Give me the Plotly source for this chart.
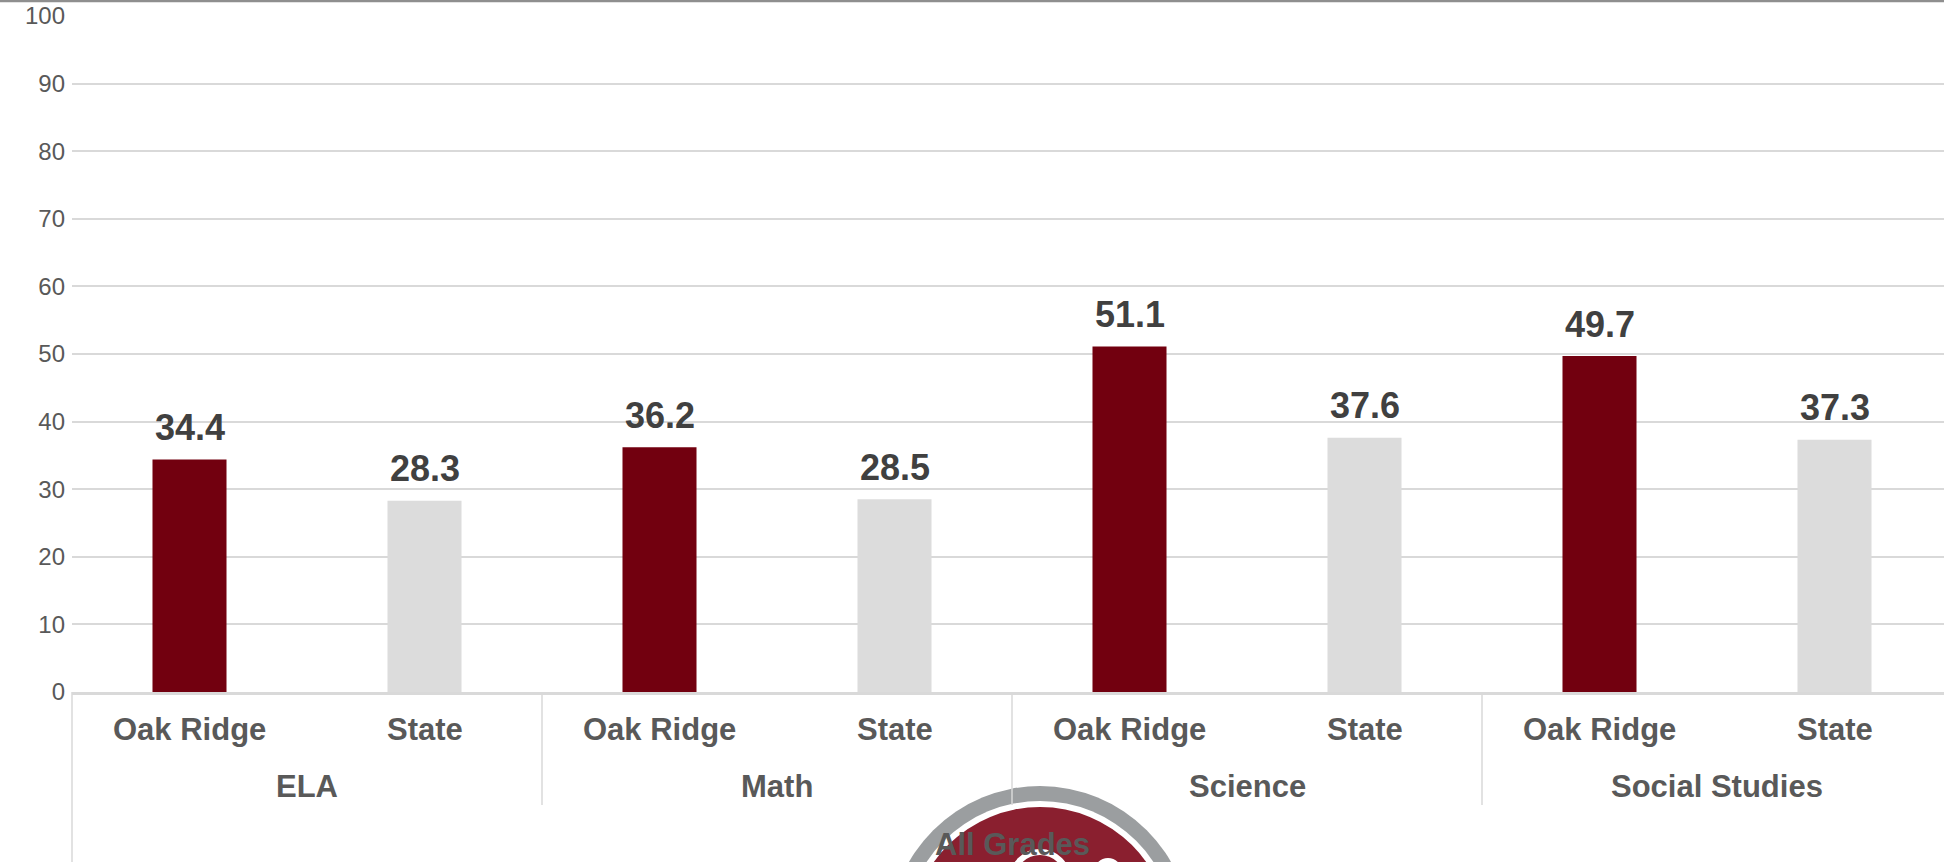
import plotly.graph_objects as go

# ---- data ----
groups = ["ELA", "Math", "Science", "Social Studies"]
series = ["Oak Ridge", "State"]
oak_ridge = [34.4, 36.2, 51.1, 49.7]
state = [28.3, 28.5, 37.6, 37.3]
y_ticks = [0, 10, 20, 30, 40, 50, 60, 70, 80, 90, 100]
subtitle = "All Grades"

# ---- styling ----
W, H = 1944, 862
ML, MR, MT, MB = 72, 0, 16, 170
PW, PH = W - ML - MR, H - MT - MB
FONT = "Liberation Sans, Arial, sans-serif"
MAROON = "#72000F"
LIGHT = "#DCDCDC"
GRID = "#D9D9D9"
LABEL = "#595959"
VAL = "#404040"

n_series = len(series)
n_pos = len(groups) * n_series
XMIN = -0.5
XMAX = n_pos - 0.5 - 8 / 235.0  # right edge slightly cut off

def xpos(gi, si):
    return gi * n_series + si

def px_to_paper_x(px):
    return (px - ML) / PW

def px_to_paper_y(py):
    return (MT + PH - py) / PH

def x_to_paper(xv):
    return (xv - XMIN) / (XMAX - XMIN)

fig = go.Figure()
colors = [MAROON, LIGHT]
for si, (name, vals) in enumerate(zip(series, [oak_ridge, state])):
    fig.add_trace(go.Bar(
        x=[xpos(gi, si) for gi in range(len(groups))],
        y=vals,
        name=name,
        marker=dict(color=colors[si], line=dict(width=0)),
        width=0.315,
        hoverinfo="x+y",
    ))

annotations = []
# value labels
for si, vals in enumerate([oak_ridge, state]):
    for gi, v in enumerate(vals):
        annotations.append(dict(
            x=xpos(gi, si), y=v, xref="x", yref="y", text=f"{v:.1f}",
            showarrow=False, yanchor="middle", yshift=32,
            font=dict(family=FONT, size=36, color=VAL, weight="bold"),
        ))
# series labels + group labels
for gi, g in enumerate(groups):
    for si, s in enumerate(series):
        annotations.append(dict(
            x=xpos(gi, si), y=0, xref="x", yref="paper", text=s,
            showarrow=False, yanchor="middle", yshift=-37,
            font=dict(family=FONT, size=31, color=LABEL, weight="bold"),
        ))
    annotations.append(dict(
        x=xpos(gi, 0) + (n_series - 1) / 2, y=0, xref="x", yref="paper", text=g,
        showarrow=False, yanchor="middle", yshift=-94,
        font=dict(family=FONT, size=31, color=LABEL, weight="bold"),
    ))

shapes = []
# top border line
shapes.append(dict(type="line", xref="paper", yref="paper",
                   x0=px_to_paper_x(0), x1=px_to_paper_x(W),
                   y0=px_to_paper_y(1), y1=px_to_paper_y(1),
                   line=dict(color="#8F8F8F", width=2.5)))

# logo (decorative emblem)
def circle(cx, cy, r, fill=None, line_color=None, line_width=0):
    d = dict(type="circle", xref="paper", yref="paper",
             x0=px_to_paper_x(cx - r), x1=px_to_paper_x(cx + r),
             y0=px_to_paper_y(cy + r), y1=px_to_paper_y(cy - r),
             line=dict(width=line_width, color=line_color or "rgba(0,0,0,0)"))
    if fill:
        d["fillcolor"] = fill
    return d

CX, CY = 1040, 937
shapes.append(circle(CX, CY, 151, fill="#9B9EA0"))
shapes.append(circle(CX, CY, 136, fill="#FFFFFF"))
shapes.append(circle(CX, CY, 130, fill="#8A1F2F"))
shapes.append(circle(1040, 880, 28, line_color="#FFFFFF", line_width=6))
shapes.append(circle(1108, 872, 14, fill="#FFFFFF"))

# left edge line of category area
shapes.append(dict(type="line", xref="paper", yref="paper",
                   x0=0, x1=0, y0=0, y1=px_to_paper_y(H + 2),
                   line=dict(color=GRID, width=1.5)))
# group dividers
for gi in range(1, len(groups)):
    xb = x_to_paper(gi * n_series - 0.5)
    shapes.append(dict(type="line", xref="paper", yref="paper",
                       x0=xb, x1=xb, y0=0, y1=px_to_paper_y(805),
                       line=dict(color=GRID, width=1.5)))

annotations.append(dict(
    x=px_to_paper_x(1012), y=px_to_paper_y(845), xref="paper", yref="paper",
    text=subtitle, showarrow=False, xanchor="center", yanchor="middle",
    font=dict(family=FONT, size=31, color=LABEL, weight="bold"),
))

fig.update_layout(
    width=W, height=H,
    margin=dict(l=ML, r=MR, t=MT, b=MB, autoexpand=False),
    paper_bgcolor="white", plot_bgcolor="white",
    barmode="overlay",
    showlegend=False,
    annotations=annotations,
    shapes=shapes,
    xaxis=dict(range=[XMIN, XMAX], showticklabels=False, ticks="",
               showgrid=False, zeroline=False,
               showline=True, linecolor=GRID, linewidth=2.5),
    yaxis=dict(range=[0, 100], tickvals=y_ticks, showgrid=True, gridcolor=GRID,
               gridwidth=2, zeroline=False, showline=False, ticks="",
               ticklabelstandoff=6,
               tickfont=dict(family=FONT, size=24, color=LABEL)),
)

fig.write_html("out.html",
               config={"displayModeBar": False},
               post_script="document.body.style.margin='0px';document.body.style.overflow='hidden';")
